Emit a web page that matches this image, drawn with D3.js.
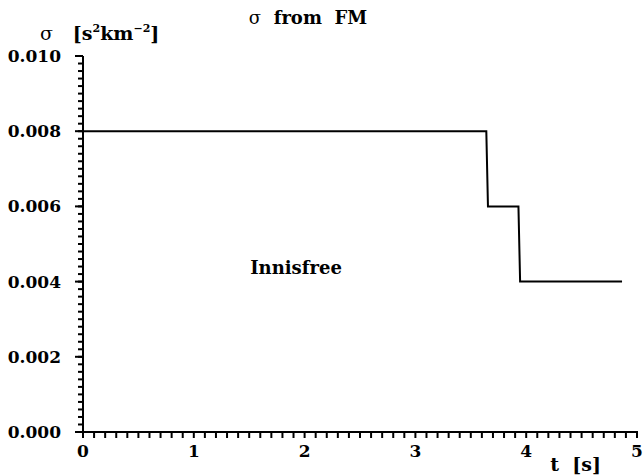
<!DOCTYPE html>
<html>
<head>
<meta charset="utf-8">
<script src="https://cdn.jsdelivr.net/npm/d3@7"></script>
<style>
  body { margin: 0; background: #fff; }
  text { font-family: "DejaVu Serif", serif; font-weight: bold; fill: #000; }
</style>
</head>
<body>
<div id="chart"></div>
<script>
// sigma step profile
const times = [0, 3.64, 3.655, 3.93, 3.945, 4.865];
const sigma = [0.008, 0.008, 0.006, 0.006, 0.004, 0.004];

const xTicks = [0, 1, 2, 3, 4, 5];
const yTicks = [0, 0.002, 0.004, 0.006, 0.008, 0.010];
const yTickLabels = ['0.000', '0.002', '0.004', '0.006', '0.008', '0.010'];

const width = 644;
const height = 476;
const margin = { left: 83, right: 7, top: 56, bottom: 44 };

const svg = d3.select('#chart')
    .append('svg')
    .attr('width', width)
    .attr('height', height);

const x = d3.scaleLinear().domain([0, 5]).range([margin.left, width - margin.right]);
const y = d3.scaleLinear().domain([0, 0.010]).range([height - margin.bottom, margin.top]);

const xMinor = d3.range(0, 51).map(i => i / 10);
const yMinor = d3.range(0, 51).map(i => i * 0.0002);

// tick marks, drawn as plain lines
svg.append('g')
    .selectAll('line')
    .data(xMinor)
    .enter().append('line')
    .attr('x1', d => x(d))
    .attr('x2', d => x(d))
    .attr('y1', y(0))
    .attr('y2', y(0) + 6)
    .attr('stroke', '#000')
    .attr('stroke-width', 2);

svg.append('g')
    .selectAll('line')
    .data(yMinor)
    .enter().append('line')
    .attr('x1', x(0) - 5)
    .attr('x2', x(0))
    .attr('y1', d => y(d))
    .attr('y2', d => y(d))
    .attr('stroke', '#000')
    .attr('stroke-width', 2);

svg.append('g')
    .selectAll('line')
    .data(yTicks)
    .enter().append('line')
    .attr('x1', x(0) - 8)
    .attr('x2', x(0))
    .attr('y1', d => y(d))
    .attr('y2', d => y(d))
    .attr('stroke', '#000')
    .attr('stroke-width', 2);

// axis lines
svg.append('line')
    .attr('x1', x(0) - 1).attr('x2', x(5) + 1)
    .attr('y1', y(0)).attr('y2', y(0))
    .attr('stroke', '#000').attr('stroke-width', 2);

svg.append('line')
    .attr('x1', x(0)).attr('x2', x(0))
    .attr('y1', y(0) + 1).attr('y2', y(0.010))
    .attr('stroke', '#000').attr('stroke-width', 2);

// tick labels
svg.append('g')
    .selectAll('text')
    .data(xTicks)
    .enter().append('text')
    .attr('x', d => x(d))
    .attr('y', y(0) + 25)
    .attr('text-anchor', 'middle')
    .style('font-size', '17px')
    .text(d => d);

svg.append('g')
    .selectAll('text')
    .data(yTicks)
    .enter().append('text')
    .attr('x', 61)
    .attr('y', d => y(d) + 6)
    .attr('text-anchor', 'end')
    .style('font-size', '17px')
    .text((d, i) => yTickLabels[i]);

// step line
const line = d3.line()
    .x((d, i) => x(times[i]))
    .y((d, i) => y(sigma[i]));

svg.append('path')
    .datum(sigma)
    .attr('d', line)
    .attr('fill', 'none')
    .attr('stroke', '#000')
    .attr('stroke-width', 2);

// labels
svg.append('text')
    .attr('x', 308)
    .attr('y', 24)
    .attr('text-anchor', 'middle')
    .style('font-size', '18px')
    .attr('xml:space', 'preserve')
    .html('<tspan style="font-weight:normal">σ</tspan>  from  FM');

svg.append('text')
    .attr('x', 40)
    .attr('y', 40)
    .style('font-size', '19px')
    .attr('xml:space', 'preserve')
    .html('<tspan style="font-weight:normal">σ</tspan>   [s<tspan dy="-8" style="font-size:11px">2</tspan><tspan dy="8">km</tspan><tspan dy="-8" style="font-size:11px">−2</tspan><tspan dy="8">]</tspan>');

svg.append('text')
    .attr('x', 296)
    .attr('y', 274)
    .attr('text-anchor', 'middle')
    .style('font-size', '18px')
    .text('Innisfree');

svg.append('text')
    .attr('x', 601)
    .attr('y', 471)
    .attr('text-anchor', 'end')
    .style('font-size', '19px')
    .attr('xml:space', 'preserve')
    .text('t  [s]');
</script>
</body>
</html>
